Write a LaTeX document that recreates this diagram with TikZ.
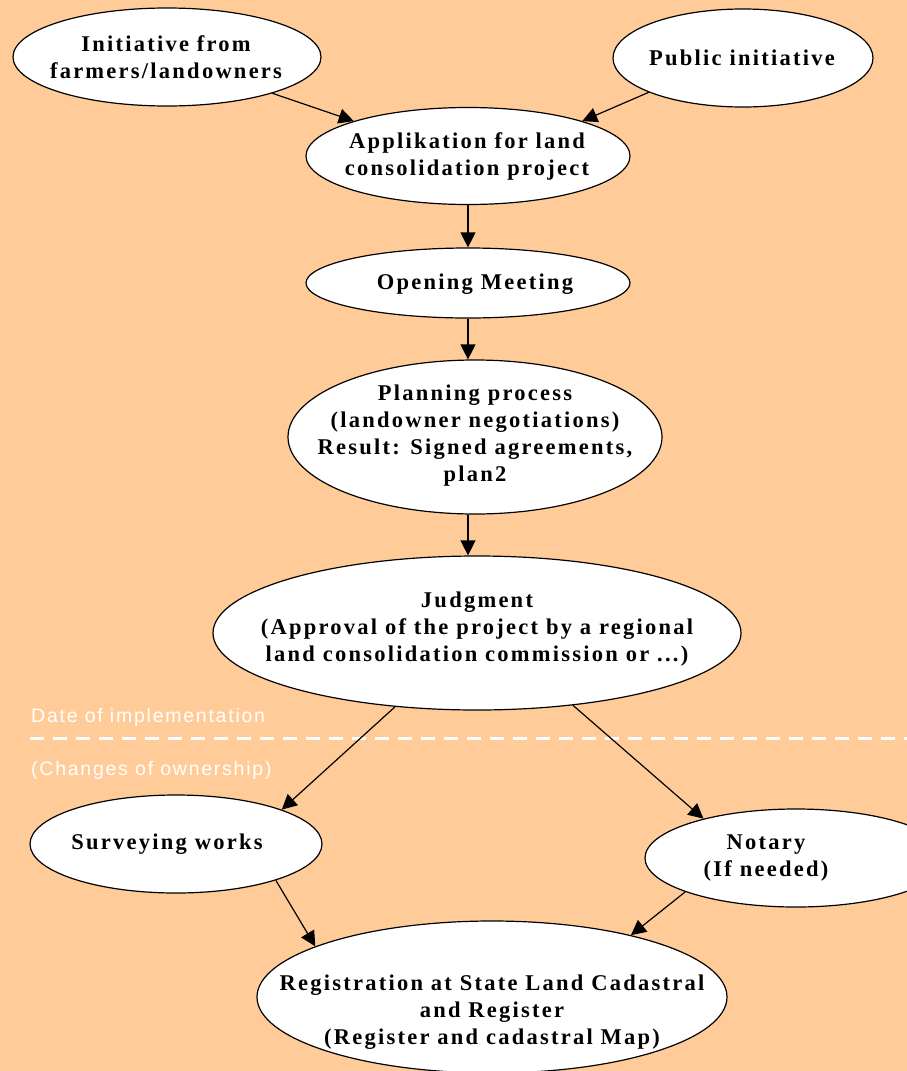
\documentclass[tikz,border=0pt]{standalone}
\usepackage{fontspec}
\setmainfont{Liberation Serif}
\newfontfamily\boxfont[LetterSpace=10]{Liberation Serif}
\newfontfamily\notefont[LetterSpace=9]{Liberation Sans}
\usetikzlibrary{shapes.geometric,arrows.meta}
\definecolor{peach}{RGB}{255,204,153}
\begin{document}
\begin{tikzpicture}[x=1pt,y=-1pt,>={Triangle[length=15pt,width=15pt]},
  blob/.style={ellipse, draw, fill=white, line width=1.2pt, inner sep=0pt},
  txt/.style={font=\boxfont\bfseries\fontsize{22.5}{27}\selectfont, align=center, inner sep=0pt},
  note/.style={font=\notefont\fontsize{19.5}{22}\selectfont, text=white, anchor=west, inner sep=0pt},
  flow/.style={->, line width=1.2pt}]
\fill [peach] (0,0) rectangle (907,1071);
\useasboundingbox (0,0) rectangle (907,1071);
\node [blob, minimum width=308pt, minimum height=98pt] (init) at (167,57) {};
\node [blob, minimum width=260pt, minimum height=98pt] (pub) at (743,58) {};
\node [blob, minimum width=324pt, minimum height=97pt] (app) at (468,156) {};
\node [blob, minimum width=324pt, minimum height=70pt] (open) at (468,283) {};
\node [blob, minimum width=374pt, minimum height=154pt] (plan) at (475,437) {};
\node [blob, minimum width=528pt, minimum height=154pt] (judg) at (477,633) {};
\node [blob, minimum width=292pt, minimum height=98pt] (surv) at (176,844) {};
\node [blob, minimum width=302pt, minimum height=98pt] (notary) at (796,858) {};
\node [blob, minimum width=470pt, minimum height=152pt] (reg) at (492,997) {};
\node [txt] (initT) at (166,57) {Initiative from\\farmers/landowners};
\node [txt] (pubT) at (742,58) {Public initiative};
\node [txt] (appT) at (467,156) {Applikation for land\\consolidation project};
\node [txt] (openT) at (475,284) {Opening Meeting};
\node [txt] (planT) at (475,436) {Planning process\\(landowner negotiations)\\Result: Signed agreements,\\plan2};
\node [txt] (judgT) at (477,629) {Judgment\\(Approval of the project by a regional\\land consolidation commission or ...)};
\node [txt] (survT) at (167,844) {Surveying works};
\node [txt] (notaryT) at (766,858) {Notary\\(If needed)};
\node [txt] (regT) at (492,1012) {Registration at State Land Cadastral\\and Register\\(Register and cadastral Map)};
\draw [white, line width=3pt, dash pattern=on 14pt off 9pt] (30,738) -- (907,738);
\node [note] (date) at (31,717) {Date of implementation};
\node [note] (owner) at (31,770) {(Changes of ownership)};
\draw [flow] (init.-19) -- (app.163);
\draw [flow] (pub.200) -- (app.17);
\draw [flow] (app.south) -- (open.north);
\draw [flow] (open.south) -- (open.south |- plan.north);
\draw [flow] (plan.south -| open.south) -- (open.south |- judg.north);
\draw [flow] (judg.-138) -- (surv.18);
\draw [flow] (judg.-37) -- (notary.157);
\draw [flow] (surv.-20) -- (reg.164);
\draw [flow] (notary.197) -- (reg.24);
\end{tikzpicture}
\end{document}
